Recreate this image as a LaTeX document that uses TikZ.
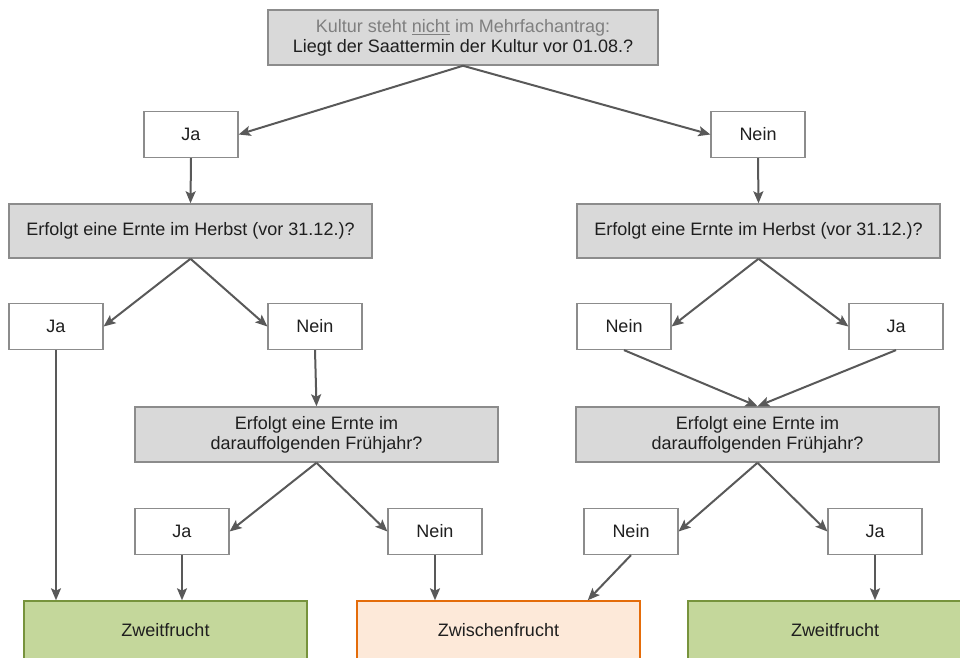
\documentclass[tikz,border=0pt]{standalone}
\usepackage{fontspec}
\setmainfont{Liberation Sans}
\usetikzlibrary{arrows.meta}
\definecolor{boxgray}{HTML}{D9D9D9}
\definecolor{linegray}{HTML}{8C8C8C}
\definecolor{arrowgray}{HTML}{595959}
\definecolor{textdark}{HTML}{1F1F1F}
\definecolor{textgray}{HTML}{7F7F7F}
\definecolor{greenfill}{HTML}{C4D79B}
\definecolor{greenline}{HTML}{77933C}
\definecolor{orangefill}{HTML}{FDE9D9}
\definecolor{orangeline}{HTML}{E46C0A}
\tikzset{
	frage/.style={draw=linegray,fill=boxgray,line width=1.5pt,minimum width=363pt,minimum height=54pt},
	antwort/.style={draw=linegray,fill=white,line width=1.2pt,minimum width=94pt,minimum height=46pt},
	gruen/.style={draw=greenline,fill=greenfill,line width=1.5pt,minimum height=58pt},
	orange/.style={draw=orangeline,fill=orangefill,line width=1.5pt,minimum width=283pt,minimum height=58pt},
	pfeil/.style={->,draw=arrowgray,line width=2pt}
}
\begin{document}
\begin{tikzpicture}[x=1pt,y=-1pt,>={Stealth[length=12pt,width=10pt,inset=2.5pt]},
	every node/.style={font=\fontsize{18}{20}\selectfont,text=textdark,inner sep=0pt,align=center}]
	\useasboundingbox (0,0) rectangle (960,657);
	\clip (0,0) rectangle (960,657);
	% Fragen
	\node[frage,minimum width=390pt,minimum height=55pt] (start) at (463,37.5) {\textcolor{textgray}{Kultur steht \underline{nicht} im Mehrfachantrag:}\\Liegt der Saattermin der Kultur vor 01.08.?};
	\node[frage] (herbstL) at (190.5,231) {Erfolgt eine Ernte im Herbst (vor 31.12.)?};
	\node[frage] (herbstR) at (758.5,231) {Erfolgt eine Ernte im Herbst (vor 31.12.)?};
	\node[frage,minimum height=55pt] (fruehL) at (316.5,434.5) {Erfolgt eine Ernte im\\darauffolgenden Frühjahr?};
	\node[frage,minimum height=55pt] (fruehR) at (757.5,434.5) {Erfolgt eine Ernte im\\darauffolgenden Frühjahr?};
	% Antworten
	\node[antwort] (ja1) at (191,134.5) {Ja};
	\node[antwort] (nein1) at (758,134.5) {Nein};
	\node[antwort] (jaL2) at (56,326.5) {Ja};
	\node[antwort] (neinL2) at (315,326.5) {Nein};
	\node[antwort] (neinR2) at (624,326.5) {Nein};
	\node[antwort] (jaR2) at (896,326.5) {Ja};
	\node[antwort] (jaL3) at (182,531.5) {Ja};
	\node[antwort] (neinL3) at (435,531.5) {Nein};
	\node[antwort] (neinR3) at (631,531.5) {Nein};
	\node[antwort] (jaR3) at (875,531.5) {Ja};
	% Ergebnisse
	\node[gruen,minimum width=283pt] (zweitL) at (165.5,630) {Zweitfrucht};
	\node[orange] (zwischen) at (498.5,630) {Zwischenfrucht};
	\node[gruen,minimum width=294pt] (zweitR) at (835,630) {Zweitfrucht};
	% Pfeile
	\draw[pfeil] (start.south) -- (ja1.east);
	\draw[pfeil] (start.south) -- (nein1.west);
	\draw[pfeil] (ja1.south) -- (herbstL.north);
	\draw[pfeil] (nein1.south) -- (herbstR.north);
	\draw[pfeil] (herbstL.south) -- (jaL2.east);
	\draw[pfeil] (herbstL.south) -- (neinL2.west);
	\draw[pfeil] (herbstR.south) -- (neinR2.east);
	\draw[pfeil] (herbstR.south) -- (jaR2.west);
	\draw[pfeil] (jaL2.south) -- (jaL2.south |- zweitL.north);
	\draw[pfeil] (neinL2.south) -- (fruehL.north);
	\draw[pfeil] (neinR2.south) -- (fruehR.north);
	\draw[pfeil] (jaR2.south) -- (fruehR.north);
	\draw[pfeil] (fruehL.south) -- (jaL3.east);
	\draw[pfeil] (fruehL.south) -- (neinL3.west);
	\draw[pfeil] (fruehR.south) -- (neinR3.east);
	\draw[pfeil] (fruehR.south) -- (jaR3.west);
	\draw[pfeil] (jaL3.south) -- (jaL3.south |- zweitL.north);
	\draw[pfeil] (neinL3.south) -- (neinL3.south |- zwischen.north);
	\draw[pfeil] (neinR3.south) -- ([xshift=-53pt]zwischen.north east);
	\draw[pfeil] (jaR3.south) -- (jaR3.south |- zweitR.north);
\end{tikzpicture}
\end{document}
